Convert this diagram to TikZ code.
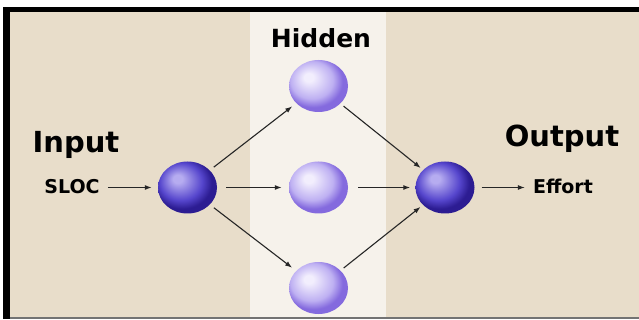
\documentclass[tikz,border=0pt]{standalone}
\usepackage{fontspec}
\setmainfont{DejaVu Sans}
\usetikzlibrary{arrows.meta,shapes.geometric}
\definecolor{beige}{RGB}{232,221,202}
\definecolor{band}{RGB}{246,242,235}
\definecolor{dkhl}{RGB}{182,172,240}
\definecolor{dkmid}{RGB}{86,70,205}
\definecolor{dkedge}{RGB}{44,28,146}
\definecolor{lthl}{RGB}{242,238,253}
\definecolor{ltmid}{RGB}{190,176,242}
\definecolor{ltedge}{RGB}{132,106,222}
\pgfdeclareradialshading{darkball}{\pgfpoint{-9bp}{9bp}}{color(0bp)=(dkhl); color(4bp)=(dkhl); color(18bp)=(dkmid); color(25bp)=(dkedge); color(50bp)=(dkedge)}
\pgfdeclareradialshading{lightball}{\pgfpoint{-9bp}{9bp}}{color(0bp)=(lthl); color(4bp)=(lthl); color(18bp)=(ltmid); color(25bp)=(ltedge); color(50bp)=(ltedge)}
\tikzset{
  sphere/.style={ellipse, minimum width=59pt, minimum height=52pt, inner sep=0pt},
  darksphere/.style={sphere, shading=darkball},
  lightsphere/.style={sphere, shading=lightball},
  big/.style={font=\bfseries\fontsize{29}{29}\selectfont, inner sep=0pt, anchor=base},
  small/.style={font=\bfseries\fontsize{19}{19}\selectfont, inner sep=0pt, anchor=base},
  conn/.style={-{Latex[length=7pt,width=5pt]}, line width=1.1pt, draw=black!85},
}
\begin{document}
\begin{tikzpicture}[x=1pt,y=-1pt]
\useasboundingbox (0,0) rectangle (639,320);
\fill[white] (0,0) rectangle (639,320);
\fill[beige] (6,10) rectangle (639,318);
\fill[band] (250,10) rectangle (386,318);
\fill[black!55] (3,316.5) rectangle (639,319);
\fill[black] (3,7) rectangle (639,12.5);
\fill[black] (3,7) rectangle (9.5,319);
% spheres
\node[darksphere] (in) at (187.5,187.5) {};
\node[lightsphere] (h1) at (318.5,86) {};
\node[lightsphere] (h2) at (318.5,187.5) {};
\node[lightsphere] (h3) at (318.5,288) {};
\node[darksphere] (out) at (445,187.5) {};
% labels
\node[big] (linput) at (76,153) {Input};
\node[big] (loutput) at (562,147) {Output};
\node[big, font=\bfseries\fontsize{25}{25}\selectfont] (lhidden) at (321,48) {Hidden};
\node[small] (sloc) at (72,194) {SLOC};
\node[small] (effort) at (563,194) {Effort};
% connectors
\draw[conn, shorten <=8pt, shorten >=6pt] (sloc.east |- in.center) -- (in);
\draw[conn, shorten <=5pt, shorten >=5pt] (in) -- (h1);
\draw[conn, shorten <=9pt, shorten >=7pt] (in) -- (h2);
\draw[conn, shorten <=5pt, shorten >=5pt] (in) -- (h3);
\draw[conn, shorten <=4pt, shorten >=3pt] (h1) -- (out);
\draw[conn, shorten <=10pt, shorten >=5pt] (h2) -- (out);
\draw[conn, shorten <=4pt, shorten >=3pt] (h3) -- (out);
\draw[conn, shorten <=7pt, shorten >=8pt] (out) -- (effort.west |- out.center);
\end{tikzpicture}
\end{document}
